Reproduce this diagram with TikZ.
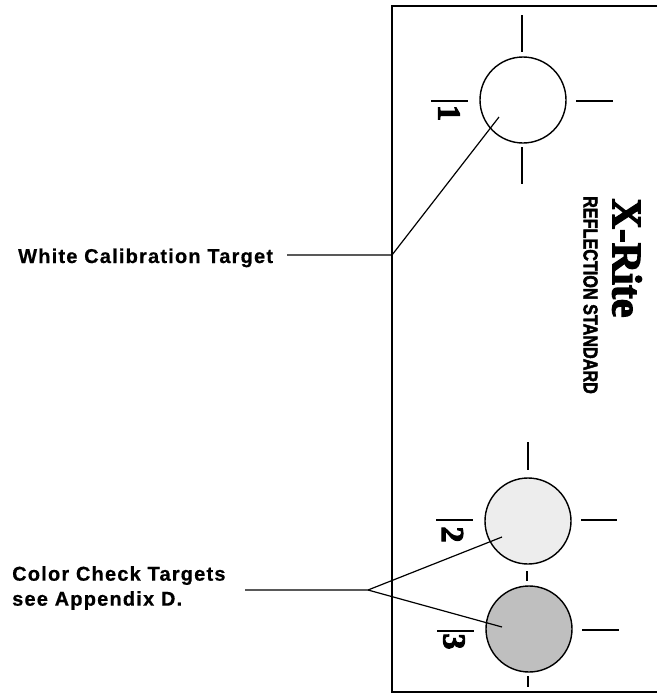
\documentclass[tikz,border=0pt]{standalone}
\usepackage{fontspec}
\setmainfont{Liberation Sans}[LetterSpace=6, BoldFeatures={FakeBold=.6}]
\newfontfamily\heavyserif{Liberation Serif}[BoldFeatures={FakeBold=3}]
\newfontfamily\heavysans{Liberation Sans}[BoldFeatures={FakeBold=2.5}]
\tikzset{
    target/.style={draw, circle, line width=1.4pt, minimum size=86pt, inner sep=0pt},
    callout/.style={font=\bfseries\fontsize{20}{25}\selectfont, anchor=base west, align=left, inner sep=0pt},
    tick/.style={line width=1.2pt},
    leader/.style={line width=1.2pt},
    number/.style={font=\heavyserif\bfseries\fontsize{32}{32}\selectfont, rotate=-90, inner sep=0pt}
}
\begin{document}
\begin{tikzpicture}[x=1pt, y=-1pt]
    \useasboundingbox (0,0) rectangle (657,694);

    \coordinate (topright) at (657,6);
    \coordinate (topleft) at (392,6);
    \coordinate (botleft) at (392,692);
    \coordinate (botright) at (657,692);
    \draw[line width=1.5pt] (topright) -- (topleft) -- (botleft) -- (botright);

    \node[target] (white) at (523,100) {};
    \node[target, fill=black!7] (light) at (528,521) {};
    \node[target, fill=black!25] (dark) at (529,629) {};

    \node[number] (one) at (449,113) {1};
    \node[number] (two) at (452.5,534.5) {2};
    \node[number] (three) at (454,641.5) {3};

    \foreach \name/\xa/\ya/\xb/\yb in {
        a/522/15/522/52, b/522/147/522/184, c/431/101/468/101, d/576/101/613/101,
        e/528/442/528/470, f/527/571/527/581, g/436/520/473/520, h/581/520/617/520,
        i/437/631/474/631, j/582/630/619/630, k/528/676/528/687} {
        \coordinate (\name1) at (\xa,\ya);
        \coordinate (\name2) at (\xb,\yb);
        \draw[tick] (\name1) -- (\name2);
    }

    \node[font=\heavyserif\bfseries\fontsize{42}{42}\selectfont, rotate=-90, inner sep=0pt] (brand) at (627,258) {X-Rite};
    \node[font=\heavysans\bfseries\fontsize{20}{20}\selectfont, rotate=-90, inner sep=0pt] (standard) at (590.5,295) {\scalebox{.81}[1]{REFLECTION STANDARD}};

    \node[callout] (whitelabel) at (18,263) {White Calibration Target};
    \node[callout, anchor=west] (colorlabel) at (12,588) {Color Check Targets\\see Appendix D.};

    \coordinate (whitestart) at (287,255);
    \coordinate (whitebend) at (392,255);
    \coordinate (whiteend) at (499,117);
    \draw[leader] (whitestart) -- (whitebend) -- (whiteend);

    \coordinate (colorstart) at (245,590);
    \coordinate (colorbend) at (368,590);
    \coordinate (lightend) at (502,537);
    \coordinate (darkend) at (502,627);
    \draw[leader] (colorstart) -- (colorbend) -- (lightend);
    \draw[leader] (colorbend) -- (darkend);
\end{tikzpicture}
\end{document}
